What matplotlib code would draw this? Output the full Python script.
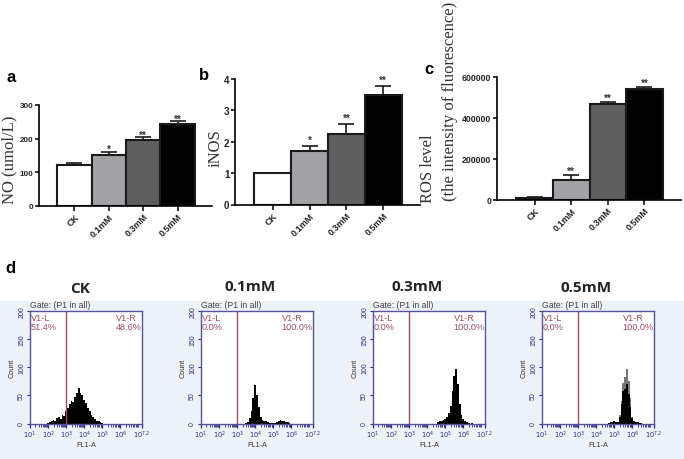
#!/usr/bin/env python
import matplotlib
matplotlib.use("Agg")
import matplotlib.pyplot as plt
import numpy as np
from matplotlib.patches import Rectangle

W, H = 684, 460

groups = ["CK", "0.1mM", "0.3mM", "0.5mM"]
bar_colors = ["#ffffff", "#a2a2a6", "#5f5f5f", "#000000"]

no_vals = [120, 152, 196, 243]
no_err = [7, 7, 7, 8]
no_stars = ["", "*", "**", "**"]

inos_vals = [1.0, 1.72, 2.24, 3.48]
inos_err = [0.0, 0.15, 0.32, 0.29]
inos_stars = ["", "*", "**", "**"]

ros_vals = [8000, 97000, 468000, 543000]
ros_err = [2000, 22000, 8000, 6000]
ros_stars = ["", "**", "**", "**"]

# flow cytometry histograms: bin start (decade) + counts every 0.1 decade
ck_start = 2.0
ck_counts = [1, 2, 4, 7, 5, 9, 12, 8, 15, 14, 22, 28, 35, 40, 38, 48, 55, 64, 55,
             50, 42, 36, 28, 22, 16, 12, 8, 5, 4, 3, 1]
m01_start = 3.5
m01_counts = [1, 3, 10, 22, 45, 68, 50, 30, 12, 6, 5, 4, 3, 1, 1, 1, 1, 3, 4, 6, 5,
              5, 3, 2, 1]
m03_start = 4.6
m03_counts = [2, 4, 5, 6, 8, 12, 18, 32, 58, 85, 97, 70, 35, 15, 8, 4, 2, 1, 0, 1]
m05_start = 4.7
m05_counts = [1, 2, 3, 4, 3, 3, 12, 35, 58, 62, 70, 52, 30, 10, 5, 3, 2, 1, 1]
m05_gray = [1, 2, 3, 4, 3, 3, 15, 40, 72, 82, 97, 76, 45, 12, 5, 3, 2, 1, 1]

flow_titles = ["CK", "0.1mM", "0.3mM", "0.5mM"]
left_pct = ["51.4%", "0.0%", "0.0%", "0.0%"]
right_pct = ["48.6%", "100.0%", "100.0%", "100.0%"]
flow_ticks = [1, 2, 3, 4, 5, 6, 7.2]
count_ticks = [0, 50, 100, 150, 200]

BLUE = "#55559f"
DKBLUE = "#2b2b86"
RED = "#a04a62"
SANS = "Liberation Sans"
SERIF = "Liberation Serif"


def axes_px(fig, x0, y0, x1, y1):
    # y0 is the top edge, pixels from the top of the image
    return fig.add_axes([x0 / W, 1 - y1 / H, (x1 - x0) / W, (y1 - y0) / H])


def bar_panel(fig, box, vals, errs, stars, ymax, yticks, tick_size, star_gap):
    ax = axes_px(fig, *box)
    x = np.arange(len(groups))
    ax.bar(x, vals, width=1.0, color=bar_colors, edgecolor="#1a1a1a", linewidth=1.5,
           yerr=[np.zeros(len(errs)), errs], capsize=6,
           error_kw={"elinewidth": 1.2, "capthick": 1.2, "ecolor": "#1a1a1a"})
    for i, s in enumerate(stars):
        if s:
            ax.text(i, vals[i] + errs[i] + star_gap, s, ha="center", va="center",
                    fontsize=7, family=SANS, fontweight="bold", color="#333333")
    ax.set_xlim(-1.03, 4.0)
    ax.set_ylim(0, ymax)
    ax.set_yticks(yticks)
    ax.set_xticks(x)
    ax.set_xticklabels(groups, rotation=45, ha="right", rotation_mode="anchor",
                       fontsize=6.5, family=SANS, fontweight="bold", color="#222222")
    for lab in ax.get_yticklabels():
        lab.set_fontsize(tick_size)
        lab.set_family(SANS)
        lab.set_fontweight("bold")
        lab.set_color("#222222")
    ax.tick_params(axis="x", length=3.5, width=1.1, pad=1.0)
    ax.tick_params(axis="y", length=3, width=1.1, pad=1.0)
    ax.spines["top"].set_visible(False)
    ax.spines["right"].set_visible(False)
    ax.spines["left"].set_linewidth(1.2)
    ax.spines["bottom"].set_linewidth(1.2)
    ax.patch.set_alpha(0)
    return ax


def flow_panel(fig, x0, idx, start, counts, gray=None):
    ax = axes_px(fig, x0, 312, x0 + 112, 424.5)
    bins = start + np.arange(len(counts)) * 0.1
    if gray is not None:
        ax.bar(bins, gray, width=0.1, color="#777777", linewidth=0)
    ax.bar(bins, counts, width=0.1, color="black", linewidth=0)
    ax.axvline(3.0, color=RED, lw=1.0)
    ax.set_xlim(1, 7.2)
    ax.set_ylim(0, 200)
    for s in ax.spines.values():
        s.set_color(BLUE)
        s.set_linewidth(1.0)
    ax.set_xticks(flow_ticks)
    ax.set_xticklabels([f"$10^{{{t}}}$" for t in flow_ticks], fontsize=4.8, color=DKBLUE)
    minor = [d + np.log10(m) for d in range(1, 8) for m in range(2, 10) if d + np.log10(m) < 7.2]
    ax.set_xticks(minor, minor=True)
    ax.tick_params(axis="x", which="major", length=3, width=0.9, color=DKBLUE, pad=1)
    ax.tick_params(axis="x", which="minor", length=2.2, width=0.6, color=DKBLUE)
    ax.set_yticks(count_ticks)
    ax.set_yticklabels(count_ticks, rotation=90, va="center", fontsize=5, family=SANS, color=DKBLUE)
    ax.tick_params(axis="y", length=2.5, width=0.8, color=DKBLUE, pad=1)
    ax.set_xlabel("FL1-A", fontsize=5.2, family=SANS, color="#333333", labelpad=0.5)
    ax.set_ylabel("Count", fontsize=5.2, family=SANS, color="#333333", labelpad=1.5)
    ax.text(0, 1.015, "Gate: (P1 in all)", transform=ax.transAxes, fontsize=6.2, family=SANS,
            color="#444444", va="bottom", ha="left")
    ax.text(0.01, 0.985, "V1-L\n" + left_pct[idx], transform=ax.transAxes, fontsize=6.6, family=SANS,
            color=RED, va="top", ha="left", linespacing=1.0)
    ax.text(1.0, 0.985, "V1-R\n" + right_pct[idx], transform=ax.transAxes, fontsize=6.6, family=SANS,
            color=RED, va="top", ha="right", linespacing=1.0, multialignment="left", clip_on=False)
    return ax


fig = plt.figure(figsize=(W / 100, H / 100), dpi=100, facecolor="white")

# pale background behind the cytometry strip
fig.patches.append(Rectangle((0, 0), 1, 1 - 302 / H, transform=fig.transFigure,
                             facecolor="#edf2f6", edgecolor="none", zorder=-5))

bar_panel(fig, (39, 106, 212, 206.5), no_vals, no_err, no_stars, 300, [0, 100, 200, 300], 5.8, 9)
bar_panel(fig, (235, 80, 420, 205.5), inos_vals, inos_err, inos_stars, 4, [0, 1, 2, 3, 4], 7, 0.2)
bar_panel(fig, (497, 78, 681, 200.5), ros_vals, ros_err, ros_stars, 600000,
          [0, 200000, 400000, 600000], 6.3, 23000)


def fig_text(x, y, s, **kw):
    fig.text(x / W, 1 - y / H, s, ha="center", va="center", **kw)


fig_text(9, 160, "NO (umol/L)", fontsize=12, family=SERIF, rotation=90, color="#333333")
fig_text(216, 148, "iNOS", fontsize=12, family=SERIF, rotation=90, color="#333333")
fig_text(428, 169, "ROS level", fontsize=12, family=SERIF, rotation=90, color="#333333")
fig_text(450, 101, "(the intensity of fluorescence)", fontsize=12, family=SERIF, rotation=90, color="#333333")

fig_text(11, 77, "a", fontsize=12, family=SANS, fontweight="bold")
fig_text(204, 75, "b", fontsize=12, family=SANS, fontweight="bold")
fig_text(429, 69, "c", fontsize=12, family=SANS, fontweight="bold")
fig_text(10, 269, "d", fontsize=12, family=SANS, fontweight="bold")

flow_panel(fig, 30, 0, ck_start, ck_counts)
flow_panel(fig, 201, 1, m01_start, m01_counts)
flow_panel(fig, 373, 2, m03_start, m03_counts)
flow_panel(fig, 542, 3, m05_start, m05_counts, gray=m05_gray)

for cx, cy, t in zip([80, 250, 417, 586], [289, 287, 287, 288], flow_titles):
    fig_text(cx, cy, t, fontsize=11, family="Open Sans", fontweight="bold", color="#222222")

fig.savefig("out.png", dpi=100)
plt.close(fig)
